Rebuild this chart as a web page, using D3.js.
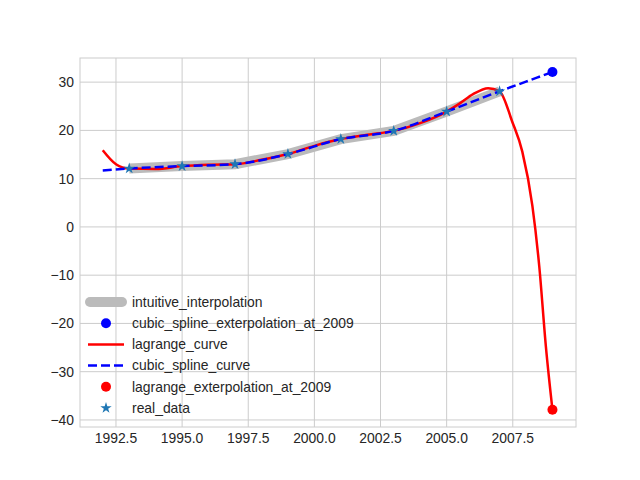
<!DOCTYPE html>
<html>
<head>
<script src="https://d3js.org/d3.v7.min.js"></script>
<style>
  body { margin: 0; background: white; }
  text { font-family: 'Liberation Sans', Arial, sans-serif; }
</style>
</head>
<body>
<svg width="640" height="480"></svg>
<script>
// real data
const years = [1993, 1995, 1997, 1999, 2001, 2003, 2005, 2007];
const values = [12.1, 12.6, 13.0, 15.1, 18.2, 19.9, 23.9, 28.1];
// lagrange curve
const lagX = [1992, 1992.5, 1993, 1994, 1995, 1996, 1997, 1998, 1999, 2000, 2001, 2002, 2003, 2004, 2005, 2005.5, 2006, 2006.57, 2007, 2007.48, 2007.86, 2008.24, 2008.5, 2008.75, 2009];
const lagY = [15.9, 13.0, 12.1, 12.0, 12.6, 12.9, 13.0, 13.9, 15.1, 16.8, 18.2, 19.1, 19.9, 21.5, 23.9, 25.6, 27.5, 28.75, 28.1, 21.8, 15.6, 4.4, -8.1, -24.7, -37.9];
// cubic spline curve
const splX = [1992, 1993, 1995, 1997, 1999, 2001, 2003, 2005, 2007, 2008, 2009];
const splY = [11.7, 12.1, 12.6, 13.0, 15.1, 18.2, 19.9, 23.9, 28.1, 30.1, 32.1];
const splineAt2009 = [2009, 32.1];
const lagrangeAt2009 = [2009, -37.9];
const xTicks = [1992.5, 1995, 1997.5, 2000, 2002.5, 2005, 2007.5];
const yTicks = [-40, -30, -20, -10, 0, 10, 20, 30];
const legendLabels = ["intuitive_interpolation", "cubic_spline_exterpolation_at_2009", "lagrange_curve", "cubic_spline_curve", "lagrange_exterpolation_at_2009", "real_data"];

const svg = d3.select("svg");
const L = 80, R = 576, T = 58, B = 427;
const x = d3.scaleLinear().domain([1991.14, 2009.89]).range([L, R]);
const y = d3.scaleLinear().domain([-41.46, 35.0]).range([B, T]);

// grid
const g = svg.append("g");
g.selectAll(".gx").data(xTicks).enter().append("line")
  .attr("x1", d => x(d)).attr("x2", d => x(d)).attr("y1", T).attr("y2", B)
  .attr("stroke", "#cccccc").attr("stroke-width", 1);
g.selectAll(".gy").data(yTicks).enter().append("line")
  .attr("y1", d => y(d)).attr("y2", d => y(d)).attr("x1", L).attr("x2", R)
  .attr("stroke", "#cccccc").attr("stroke-width", 1);
svg.append("rect").attr("x", L).attr("y", T).attr("width", R - L).attr("height", B - T)
  .attr("fill", "none").attr("stroke", "#cccccc").attr("stroke-width", 1);

// tick labels
svg.selectAll(".xl").data(xTicks).enter().append("text")
  .attr("x", d => x(d)).attr("y", B + 16).attr("text-anchor", "middle")
  .attr("font-size", 13.9).attr("fill", "#262626").text(d => d.toFixed(1));
svg.selectAll(".yl").data(yTicks).enter().append("text")
  .attr("x", L - 6).attr("y", d => y(d)).attr("dy", "0.35em").attr("text-anchor", "end")
  .attr("font-size", 13.9).attr("fill", "#262626").text(d => d < 0 ? "\u2212" + (-d) : d);

const line = d3.line().x(d => x(d[0])).y(d => y(d[1]));
svg.append("defs").append("clipPath").attr("id", "c")
  .append("rect").attr("x", L).attr("y", T).attr("width", R - L).attr("height", B - T);
const p = svg.append("g").attr("clip-path", "url(#c)");

// intuitive interpolation
p.append("path").datum(d3.zip(years, values)).attr("d", line)
  .attr("fill", "none").attr("stroke", "#bbbbbb").attr("stroke-width", 10);
// lagrange
p.append("path").datum(d3.zip(lagX, lagY)).attr("d", line.curve(d3.curveMonotoneX))
  .attr("fill", "none").attr("stroke", "red").attr("stroke-width", 2.5);
// spline
p.append("path").datum(d3.zip(splX, splY)).attr("d", line.curve(d3.curveMonotoneX))
  .attr("fill", "none").attr("stroke", "blue").attr("stroke-width", 2.5).attr("stroke-dasharray", "9,4");
svg.append("circle").attr("cx", x(splineAt2009[0])).attr("cy", y(splineAt2009[1])).attr("r", 5).attr("fill", "blue");
svg.append("circle").attr("cx", x(lagrangeAt2009[0])).attr("cy", y(lagrangeAt2009[1])).attr("r", 5).attr("fill", "red");
const star = d3.symbol().type(d3.symbolStar).size(40);
svg.selectAll(".st").data(d3.zip(years, values)).enter().append("path")
  .attr("d", star).attr("transform", d => `translate(${x(d[0])},${y(d[1])})`).attr("fill", "#1f77b4");

// legend
const lg = svg.append("g").attr("transform", "translate(88,302)");
legendLabels.forEach((t, i) => {
  const yy = i * 21.2;
  const row = lg.append("g").attr("transform", `translate(0,${yy})`);
  if (i === 0) row.append("line").attr("x1", 2).attr("x2", 34).attr("stroke", "#bbbbbb").attr("stroke-width", 10).attr("stroke-linecap", "round");
  if (i === 1) row.append("circle").attr("cx", 18).attr("r", 5).attr("fill", "blue");
  if (i === 2) row.append("line").attr("x1", 0).attr("x2", 36).attr("stroke", "red").attr("stroke-width", 2.5);
  if (i === 3) row.append("line").attr("x1", 0).attr("x2", 36).attr("stroke", "blue").attr("stroke-width", 2.5).attr("stroke-dasharray", "9,4");
  if (i === 4) row.append("circle").attr("cx", 18).attr("r", 5).attr("fill", "red");
  if (i === 5) row.append("path").attr("d", star).attr("transform", "translate(18,0)").attr("fill", "#1f77b4");
  row.append("text").attr("x", 44).attr("dy", "0.35em").attr("font-size", 13.9).attr("fill", "#262626").text(t);
});
</script>
</body>
</html>
